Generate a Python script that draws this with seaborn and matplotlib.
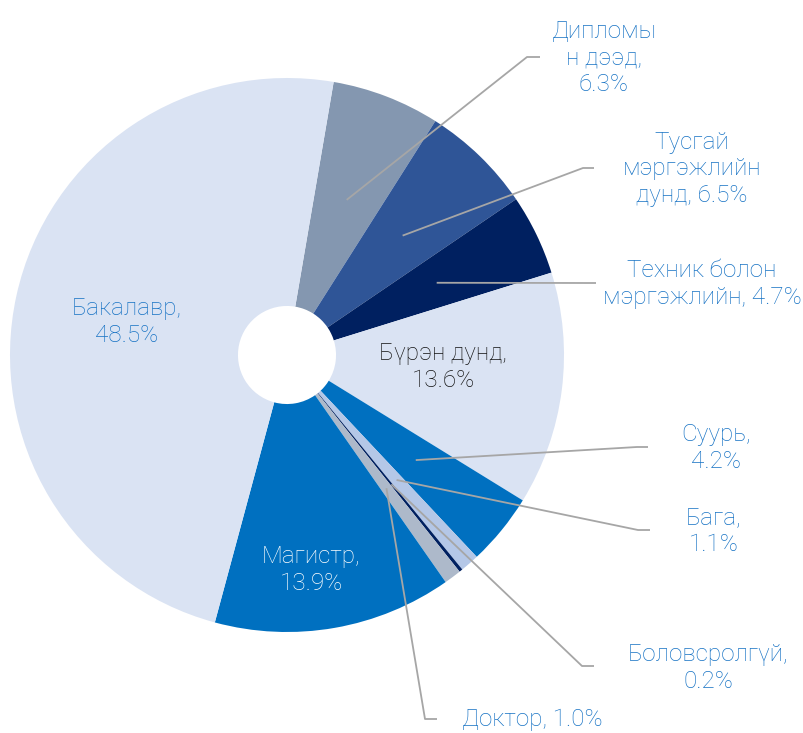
import numpy as np
import matplotlib
matplotlib.use("Agg")
import matplotlib.pyplot as plt
import seaborn as sns

# === Data ===
categories = ["Дипломын дээд", "Тусгай мэргэжлийн дунд", "Техник болон мэргэжлийн",
              "Бүрэн дунд", "Суурь", "Бага", "Боловсролгүй", "Доктор",
              "Магистр", "Бакалавр"]
values = [6.3, 6.5, 4.7, 13.6, 4.2, 1.1, 0.2, 1.0, 13.9, 48.5]
label_texts = ["Дипломы\nн дээд,\n6.3%", "Тусгай\nмэргэжлийн\nдунд, 6.5%",
               "Техник болон\nмэргэжлийн, 4.7%", "Бүрэн дунд,\n13.6%",
               "Суурь,\n4.2%", "Бага,\n1.1%", "Боловсролгүй,\n0.2%",
               "Доктор, 1.0%", "Магистр,\n13.9%", "Бакалавр,\n48.5%"]

colors = ["#8497B0", "#2F5597", "#002060", "#DAE3F3", "#0070C0",
          "#B4C7E7", "#002060", "#ADB9CA", "#0070C0", "#DAE3F3"]
text_blue = "#1672C4"

sns.set_theme(style="white")
plt.rcParams['font.family'] = ['Roboto', 'DejaVu Sans']

W, H = 804, 733
CX, CY, R = 287, 355, 277
FS = 17.5


def px(x, y):
    # pixel position -> data coordinates (pie radius = 1)
    return (x - CX) / R, (CY - y) / R


fig = plt.figure(figsize=(W / 100, H / 100), dpi=100)
ax = fig.add_axes([0, 0, 1, 1])

wedges, _ = ax.pie(values, colors=colors, startangle=80.3, counterclock=False,
                   radius=1.0, wedgeprops=dict(width=0.823, linewidth=0))

# pie() resets the limits, so set them afterwards
ax.set_xlim(-CX / R, (W - CX) / R)
ax.set_ylim(-(H - CY) / R, CY / R)
ax.set_aspect('equal')
ax.axis('off')

# inside labels: (text colour, pixel centre)
inside = {
    3: ("#111111", (443, 367)),
    8: ("white", (311, 570)),
    9: (text_blue, (127, 322)),
}
# outside labels: (text centre, elbow, end of horizontal segment)
outside = {
    0: ((604, 58), (527, 57), (540, 57)),
    1: ((692, 169), (583, 168), (594, 168)),
    2: ((702, 284), (585, 283), (596, 283)),
    4: ((716, 448), (637, 447), (648, 447)),
    5: ((714, 531), (638, 530), (650, 530)),
    6: ((708, 668), (582, 666), (594, 666)),
    7: ((532, 720), (425, 719), (437, 719)),
}

for i, w in enumerate(wedges):
    mid = np.deg2rad((w.theta1 + w.theta2) / 2)
    if i in inside:
        col, pos = inside[i]
        ax.text(*px(*pos), label_texts[i], color=col, fontsize=FS,
                fontweight='light', ha='center', va='center',
                multialignment='center', linespacing=1.2)
    else:
        tpos, elbow, end = outside[i]
        sx, sy = 0.6 * np.cos(mid), 0.6 * np.sin(mid)
        ex, ey = px(*elbow)
        hx, hy = px(*end)
        ax.plot([sx, ex, hx], [sy, ey, hy], color="#A6A6A6", lw=1.3,
                solid_capstyle='butt')
        ax.text(*px(*tpos), label_texts[i], color=text_blue, fontsize=FS,
                fontweight='light', ha='center', va='center',
                multialignment='center', linespacing=1.2)

fig.savefig("out.png", dpi=100)
